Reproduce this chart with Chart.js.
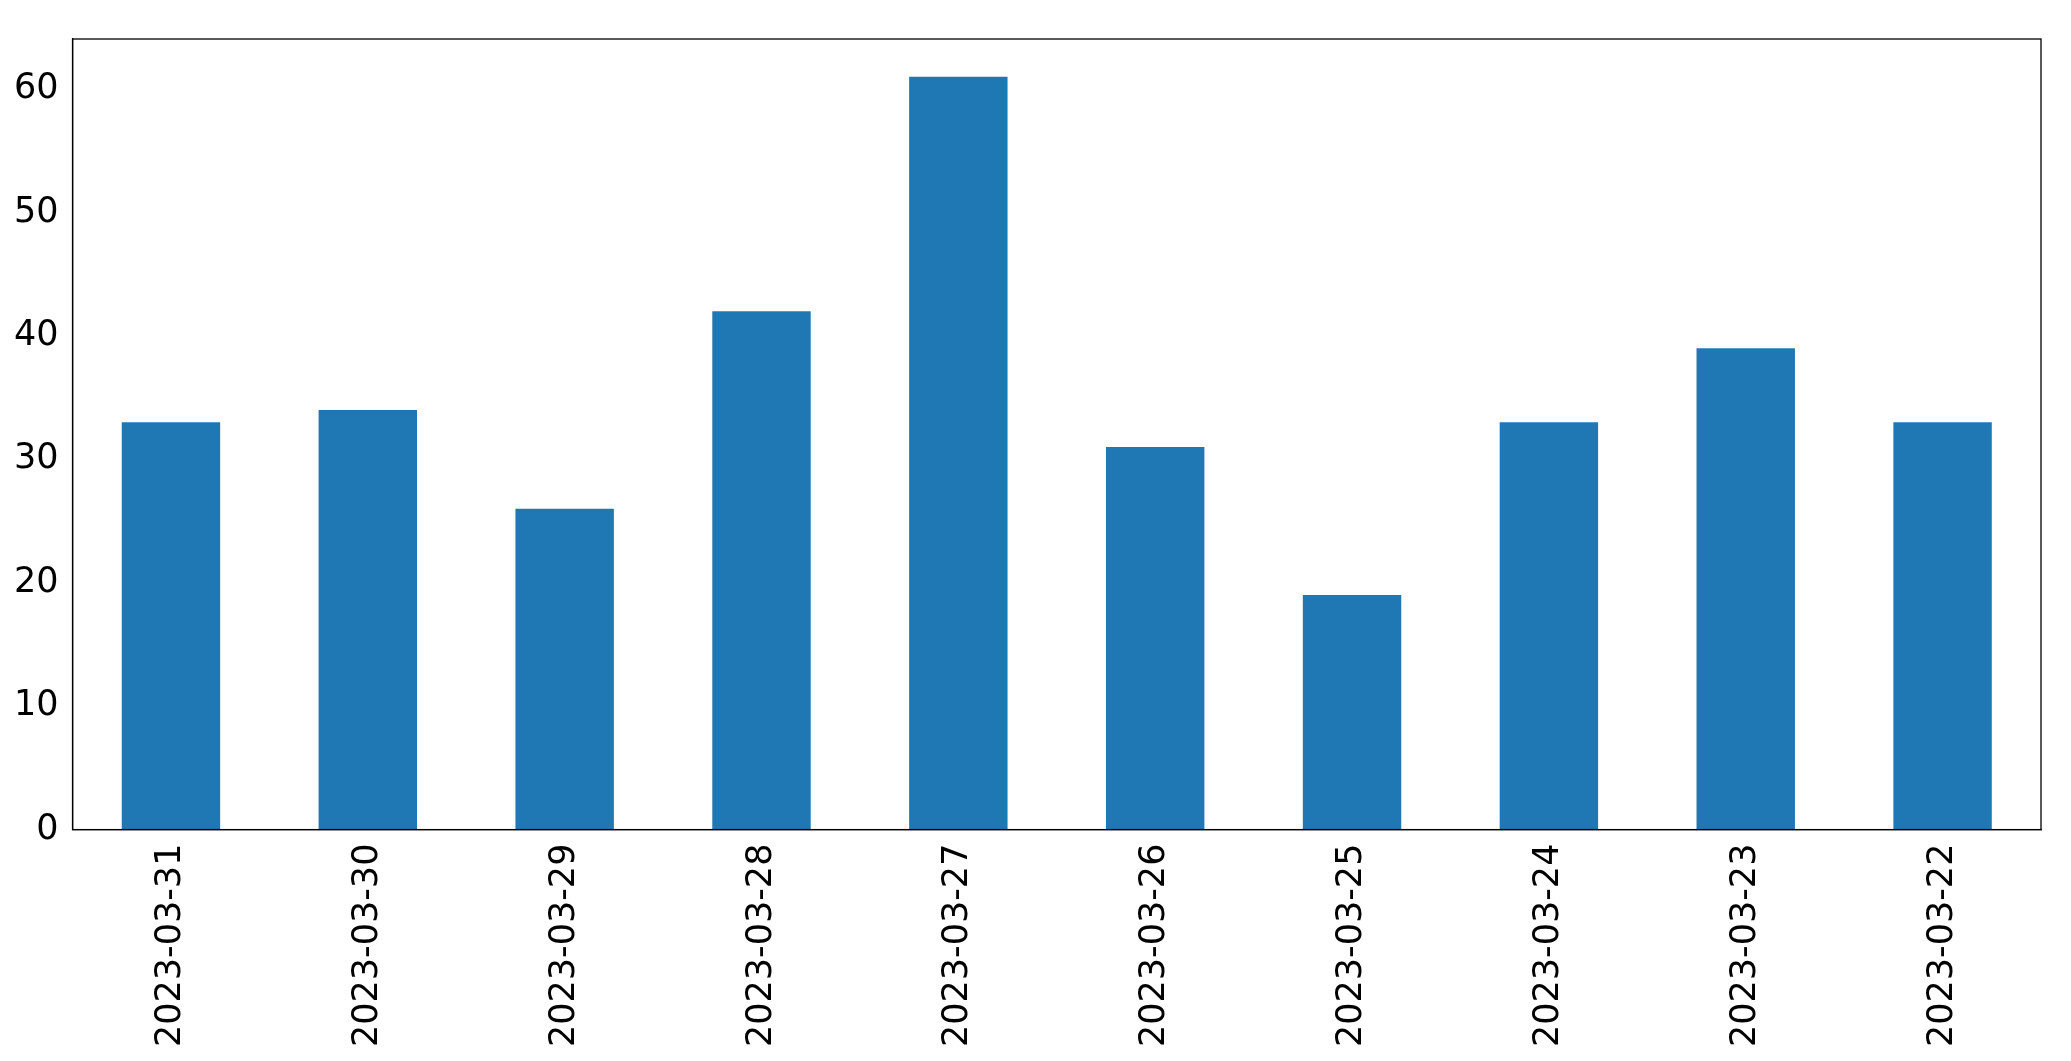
<!DOCTYPE html>
<html>
<head>
<meta charset="utf-8">
<script src="https://cdn.jsdelivr.net/npm/chart.js@4"></script>
<style>
  html, body { margin: 0; padding: 0; background: #fff; }
</style>
</head>
<body>
<canvas id="chart" width="2071" height="1061"></canvas>
<script>
// Chart data
const dates = ['2023-03-31', '2023-03-30', '2023-03-29', '2023-03-28', '2023-03-27',
               '2023-03-26', '2023-03-25', '2023-03-24', '2023-03-23', '2023-03-22'];
const counts = [33, 34, 26, 42, 61, 31, 19, 33, 39, 33];
const yTicks = [0, 10, 20, 30, 40, 50, 60];

// Frame around the plot area (matplotlib style)
const frame = {
    id: 'frame',
    afterDraw(chart) {
        const { ctx, chartArea: a } = chart;
        ctx.save();
        ctx.strokeStyle = '#000';
        ctx.lineWidth = 1.3;
        ctx.strokeRect(a.left, a.top, a.right - a.left, a.bottom - a.top);
        ctx.restore();
    }
};

const ctx = document.getElementById('chart').getContext('2d');
new Chart(ctx, {
    type: 'bar',
    data: {
        labels: dates,
        datasets: [{
            data: counts,
            backgroundColor: '#1f77b4',
            categoryPercentage: 1.0,
            barPercentage: 0.5
        }]
    },
    options: {
        responsive: false,
        animation: false,
        layout: { padding: { top: 39, right: 30, left: 10, bottom: 10 } },
        plugins: { legend: { display: false }, tooltip: { enabled: false } },
        scales: {
            x: {
                grid: { display: false, drawTicks: true, tickLength: 10, tickColor: '#000' },
                border: { color: '#000', width: 1.3 },
                ticks: {
                    color: '#000',
                    font: { family: 'DejaVu Sans', size: 35 },
                    maxRotation: 90, minRotation: 90, padding: 4
                }
            },
            y: {
                min: 0,
                max: 64.05,
                afterBuildTicks(axis) { axis.ticks = yTicks.map(v => ({ value: v })); },
                grid: { display: false, drawTicks: true, tickLength: 10, tickColor: '#000' },
                border: { color: '#000', width: 1.3 },
                ticks: {
                    color: '#000',
                    font: { family: 'DejaVu Sans', size: 35 },
                    padding: 4
                }
            }
        }
    },
    plugins: [frame]
});
</script>
</body>
</html>
